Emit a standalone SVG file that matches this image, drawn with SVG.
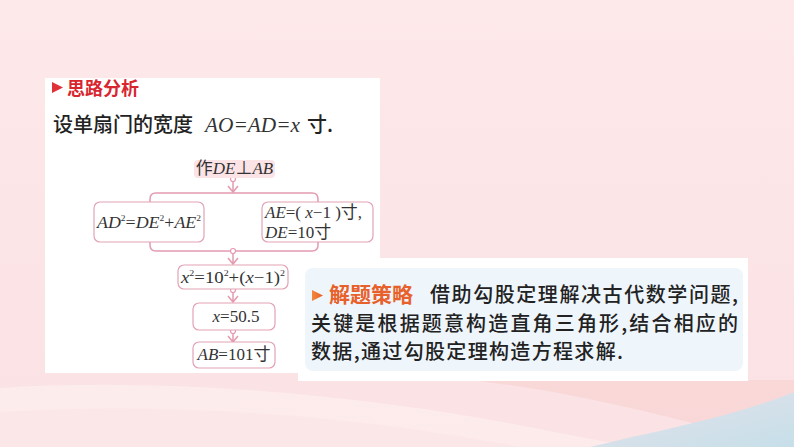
<svg xmlns="http://www.w3.org/2000/svg" width="794" height="447" viewBox="0 0 794 447">
<defs>
<linearGradient id="bg" x1="0" y1="0" x2="0" y2="1">
<stop offset="0" stop-color="#fde8ea"/>
<stop offset="1" stop-color="#fbe2e4"/>
</linearGradient>
<linearGradient id="blue" x1="0" y1="0" x2="1" y2="1">
<stop offset="0" stop-color="#e6e2ea"/>
<stop offset="1" stop-color="#c6dfe9"/>
</linearGradient>
<linearGradient id="tri" x1="0" y1="0" x2="1" y2="0">
<stop offset="0" stop-color="#f08a3c"/>
<stop offset="1" stop-color="#e8602a"/>
</linearGradient>
<style>
.cn{font-family:"Noto Sans CJK SC","Noto Sans",sans-serif;fill:#222;font-weight:500}
.m{font-family:"Liberation Serif","Times New Roman","Noto Sans CJK SC",serif;font-size:17px;fill:#333}
.i{font-style:italic}
.sup{font-size:9px}
.box{fill:#fff;stroke:#e2a2b4;stroke-width:1.2}
.con{fill:none;stroke:#e49bb0;stroke-width:1.5}
.dot{fill:#fff;stroke:#e49bb0;stroke-width:1.2}
</style>
</defs>
<rect width="794" height="447" fill="url(#bg)"/>
<path d="M0,388 C150,378 330,392 480,418 C560,432 620,447 650,447 L0,447 Z" fill="#fdf0f0" opacity="0.7"/>
<path d="M0,412 C170,402 350,414 520,447 L0,447 Z" fill="#fbe5e7" opacity="0.7"/>
<path d="M470,380 C560,390 640,410 700,425 C740,433 770,425 794,410 L794,380 Z" fill="#f9d4d4" opacity="0.8"/>
<path d="M590,447 C660,430 730,418 794,392 L794,447 Z" fill="url(#blue)"/>
<rect x="45" y="78" width="335" height="295" fill="#fff"/>
<rect x="298" y="258" width="450" height="123" fill="#fff"/>
<rect x="305" y="268" width="438" height="103" rx="8" fill="#eef5fb"/>
<g id="title">
<polygon points="52,82 63,87.5 52,93" fill="#e0303a"/>
<text x="67" y="95" class="cn" font-size="18" style="fill:#d8262f;font-weight:bold">思路分析</text>
</g>
<g id="intro">
<text x="53" y="132" class="cn" font-size="20">设单扇门的宽度</text>
<text x="205" y="132" class="m i" style="font-size:21px" textLength="95" lengthAdjust="spacingAndGlyphs">AO=AD=x</text>
<text x="307" y="132" class="cn" font-size="20">寸.</text>
</g>
<g id="connectors">
<path class="con" d="M150,203 V199 Q150,193 156,193 H312 Q318,193 318,199 V203"/>
<path class="con" d="M150,242 V245 Q150,251 156,251 H312 Q318,251 318,245 V242"/>
<path class="con" d="M233,181.5 V192 M228,186 L233,192 L238,186"/>
<circle class="dot" cx="233" cy="179" r="2.5"/>
<path class="con" d="M233,253.5 V264 M228,258 L233,264 L238,258"/>
<circle class="dot" cx="233" cy="251" r="2.5"/>
<path class="con" d="M233,292.5 V302 M228,296 L233,302 L238,296"/>
<circle class="dot" cx="233" cy="290" r="2.5"/>
<path class="con" d="M233,333.5 V342 M228,336 L233,342 L238,336"/>
<circle class="dot" cx="233" cy="331" r="2.5"/>
</g>
<g id="n-de">
<rect x="194" y="160" width="81" height="18" rx="4" fill="#fbe3e6"/>
<text x="234.5" y="174" class="m" text-anchor="middle">作<tspan class="i">DE</tspan>⊥<tspan class="i">AB</tspan></text>
</g>
<g id="n-ad">
<rect class="box" x="94" y="202" width="110" height="40" rx="6"/>
<text x="97" y="228" class="m" textLength="104" lengthAdjust="spacingAndGlyphs"><tspan class="i">AD</tspan><tspan class="sup" dy="-7">2</tspan><tspan dy="7">=</tspan><tspan class="i">DE</tspan><tspan class="sup" dy="-7">2</tspan><tspan dy="7">+</tspan><tspan class="i">AE</tspan><tspan class="sup" dy="-7">2</tspan></text>
</g>
<g id="n-ae">
<rect class="box" x="262" y="202" width="111" height="40" rx="6"/>
<text x="265" y="218" class="m"><tspan class="i">AE</tspan>=( <tspan class="i">x</tspan>−1 )寸,</text>
<text x="265" y="238" class="m"><tspan class="i">DE</tspan>=10寸</text>
</g>
<g id="n-eq">
<rect class="box" x="178" y="265" width="110" height="24" rx="6"/>
<text x="181" y="283" class="m" textLength="104" lengthAdjust="spacingAndGlyphs"><tspan class="i">x</tspan><tspan class="sup" dy="-7">2</tspan><tspan dy="7">=10</tspan><tspan class="sup" dy="-7">2</tspan><tspan dy="7">+(</tspan><tspan class="i">x</tspan>−1)<tspan class="sup" dy="-7">2</tspan></text>
</g>
<g id="n-x">
<rect class="box" x="193" y="303" width="82" height="27" rx="6"/>
<text x="236" y="322" class="m" text-anchor="middle"><tspan class="i">x</tspan>=50.5</text>
</g>
<g id="n-ab">
<rect class="box" x="193" y="342" width="82" height="26" rx="6"/>
<text x="234" y="360" class="m" text-anchor="middle"><tspan class="i">AB</tspan>=101寸</text>
</g>
<g id="strategy">
<polygon points="312,290 323,295.5 312,301" fill="url(#tri)"/>
<text x="329" y="302" class="cn" font-size="21" style="fill:#e8602a;font-weight:bold">解题策略</text>
<text x="430" y="302" class="cn" font-size="20" textLength="308" lengthAdjust="spacing">借助勾股定理解决古代数学问题,</text>
<text x="311" y="331" class="cn" font-size="20" textLength="427" lengthAdjust="spacing">关键是根据题意构造直角三角形,结合相应的</text>
<text x="311" y="359" class="cn" font-size="20" textLength="312" lengthAdjust="spacing">数据,通过勾股定理构造方程求解.</text>
</g>
</svg>
